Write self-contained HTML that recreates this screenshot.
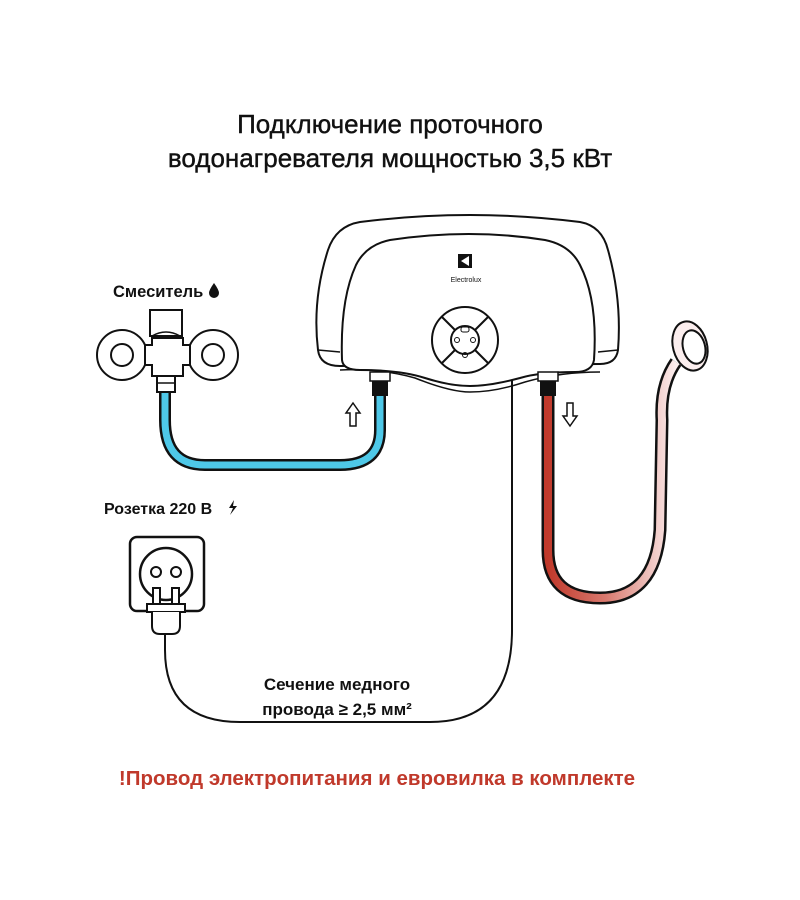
<!DOCTYPE html>
<html><head><meta charset="utf-8"><style>
html,body{margin:0;padding:0;background:#fff;}
svg{display:block;}
text{font-family:"Liberation Sans","DejaVu Sans",sans-serif;}
</style></head><body>
<svg width="800" height="900" viewBox="0 0 800 900" xmlns="http://www.w3.org/2000/svg">
<defs>
<linearGradient id="rg" x1="0" y1="0" x2="1" y2="0">
<stop offset="0" stop-color="#c0392b"/><stop offset="0.45" stop-color="#d9796e"/><stop offset="1" stop-color="#fbeeee"/>
</linearGradient>
</defs>
<text x="390" y="133" font-size="26" text-anchor="middle" fill="#111" stroke="#111" stroke-width="0.4">Подключение проточного</text>
<text x="390" y="167" font-size="26" text-anchor="middle" fill="#111" stroke="#111" stroke-width="0.4">водонагревателя мощностью 3,5 кВт</text>

<!-- cable -->
<path d="M512 378 L512 630 Q512 722 430 722 L240 722 Q165 722 165 650 L165 635" fill="none" stroke="#111" stroke-width="2"/>

<!-- heater -->
<path d="M318 350 Q312 300 328 250 Q336 226 360 222 Q470 208 580 222 Q602 226 608 250 Q622 300 618 350 Q616 364 600 364 L340 366 Q320 366 318 350 Z" fill="#fff" stroke="#111" stroke-width="2"/>
<path d="M318 350 L340 352 M618 350 L598 352" stroke="#111" stroke-width="1.5"/>
<path d="M342 360 Q340 300 356 265 Q366 245 390 240 Q470 228 545 240 Q570 245 580 265 Q598 300 594 360 Q592 372 575 372 Q540 372 520 378 Q490 386 470 386 Q450 386 425 378 Q400 370 360 370 Q343 370 342 360 Z" fill="#fff" stroke="#111" stroke-width="2"/>
<path d="M340 370 Q380 368 415 378 Q450 392 470 392 Q495 392 525 382 Q560 372 600 372" fill="none" stroke="#111" stroke-width="1.5"/>
<rect x="458" y="254" width="14" height="14" fill="#111"/>
<path d="M461 261 L469 256 L469 266 Z" fill="#fff"/>
<text x="466" y="282" font-size="7" text-anchor="middle" fill="#111">Electrolux</text>
<circle cx="465" cy="340" r="33" fill="#fff" stroke="#111" stroke-width="2"/>
<line x1="442" y1="317" x2="488" y2="363" stroke="#111" stroke-width="2"/>
<line x1="488" y1="317" x2="442" y2="363" stroke="#111" stroke-width="2"/>
<circle cx="465" cy="340" r="14" fill="#fff" stroke="#111" stroke-width="2"/>
<rect x="461" y="327" width="8" height="5" rx="2" fill="none" stroke="#111"/>
<circle cx="457" cy="340" r="2.5" fill="none" stroke="#111"/>
<circle cx="473" cy="340" r="2.5" fill="none" stroke="#111"/>
<circle cx="465" cy="355" r="2.5" fill="none" stroke="#111"/>

<!-- fittings -->
<rect x="370" y="372" width="20" height="9" fill="#fff" stroke="#111" stroke-width="1.5"/>
<rect x="372" y="381" width="16" height="15" fill="#111"/>
<rect x="538" y="372" width="20" height="9" fill="#fff" stroke="#111" stroke-width="1.5"/>
<rect x="540" y="381" width="16" height="15" fill="#111"/>

<!-- blue hose -->
<path d="M380 396 L380 430 Q380 465 340 465 L205 465 Q165 465 165 420 L165 392" fill="none" stroke="#111" stroke-width="12"/>
<path d="M380 396 L380 430 Q380 465 340 465 L205 465 Q165 465 165 420 L165 392" fill="none" stroke="#4ec8e8" stroke-width="7"/>

<!-- red hose -->
<path d="M548 396 L548 550 Q548 598 600 598 Q655 598 660 530 L662 420 Q660 385 676 362" fill="none" stroke="#111" stroke-width="13"/>
<path d="M548 396 L548 550 Q548 598 600 598 Q655 598 660 530 L662 420 Q660 385 676 362" fill="none" stroke="url(#rg)" stroke-width="8"/>
<ellipse cx="690" cy="346" rx="17" ry="25" transform="rotate(-15 690 346)" fill="#fbeeee" stroke="#111" stroke-width="2"/>
<ellipse cx="694" cy="347" rx="11" ry="17" transform="rotate(-15 694 347)" fill="#fff" stroke="#111" stroke-width="2"/>

<!-- arrows -->
<path d="M353 403 L360 413 L356 413 L356 426 L350 426 L350 413 L346 413 Z" fill="#fff" stroke="#111" stroke-width="1.5"/>
<path d="M570 426 L563 416 L567 416 L567 403 L573 403 L573 416 L577 416 Z" fill="#fff" stroke="#111" stroke-width="1.5"/>

<!-- mixer -->
<text x="113" y="297" font-size="16.5" font-weight="bold" fill="#111">Смеситель</text>
<path d="M214 283 Q209 290 209 293 A5 5 0 0 0 219 293 Q219 290 214 283 Z" fill="#111"/>
<circle cx="122" cy="355" r="25" fill="#fff" stroke="#111" stroke-width="2"/>
<circle cx="122" cy="355" r="11" fill="#fff" stroke="#111" stroke-width="2"/>
<circle cx="213" cy="355" r="25" fill="#fff" stroke="#111" stroke-width="2"/>
<circle cx="213" cy="355" r="11" fill="#fff" stroke="#111" stroke-width="2"/>
<path d="M152 338 L152 345 L145 345 L145 365 L152 365 L152 376 L183 376 L183 365 L190 365 L190 345 L183 345 L183 338 Z" fill="#fff" stroke="#111" stroke-width="2"/>
<rect x="150" y="310" width="32" height="26" fill="#fff" stroke="#111" stroke-width="2"/>
<path d="M152 336 Q166 328 180 336" fill="none" stroke="#111" stroke-width="1.5"/>
<rect x="157" y="376" width="18" height="16" fill="#fff" stroke="#111" stroke-width="2"/>
<line x1="157" y1="383" x2="175" y2="383" stroke="#111" stroke-width="1.5"/>

<!-- socket -->
<text x="104" y="514" font-size="16" font-weight="bold" fill="#111">Розетка 220 В</text>
<path d="M234 500 L229 508 L233 508 L230 515 L237 506 L233 506 Z" fill="#111"/>
<rect x="130" y="537" width="74" height="74" rx="7" fill="#fff" stroke="#111" stroke-width="2.5"/>
<rect x="136" y="543" width="62" height="62" fill="#fff"/>
<circle cx="166" cy="574" r="26" fill="#fff" stroke="#111" stroke-width="2.5"/>
<circle cx="156" cy="572" r="5" fill="none" stroke="#111" stroke-width="2"/>
<circle cx="176" cy="572" r="5" fill="none" stroke="#111" stroke-width="2"/>
<rect x="153" y="588" width="7" height="16" fill="#fff" stroke="#111" stroke-width="2"/>
<rect x="172" y="588" width="7" height="16" fill="#fff" stroke="#111" stroke-width="2"/>
<rect x="147" y="604" width="38" height="8" fill="#fff" stroke="#111" stroke-width="2"/>
<path d="M152 612 L152 626 Q152 634 160 634 L172 634 Q180 634 180 626 L180 612" fill="#fff" stroke="#111" stroke-width="2"/>

<text x="337" y="690" font-size="17" font-weight="bold" text-anchor="middle" fill="#111">Сечение медного</text>
<text x="337" y="715" font-size="17" font-weight="bold" text-anchor="middle" fill="#111">провода ≥ 2,5 мм²</text>

<text x="377" y="785" font-size="20.5" font-weight="bold" text-anchor="middle" fill="#c0392b">!Провод электропитания и евровилка в комплекте</text>
</svg>
</body></html>
